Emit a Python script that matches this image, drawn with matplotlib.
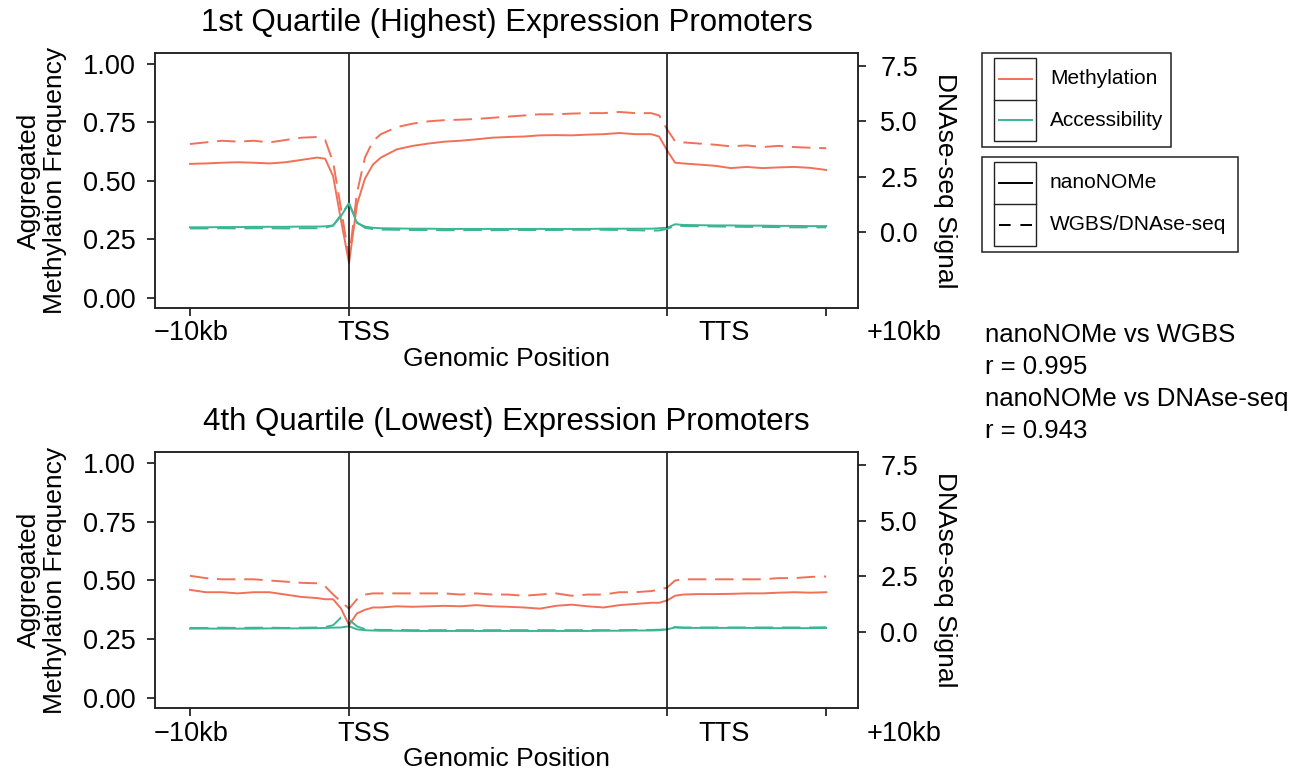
import numpy as np
import matplotlib
matplotlib.use("Agg")
import matplotlib.pyplot as plt
from matplotlib.patches import Rectangle
from matplotlib.lines import Line2D
import matplotlib.transforms as mtrans

plt.rcParams['font.family'] = ['Liberation Sans', 'DejaVu Sans']

# ---------------- data ----------------
pos = [-1.0, -0.9, -0.8, -0.7, -0.6, -0.5, -0.4, -0.3, -0.2, -0.15, -0.1, -0.05, 0.0,
       0.05, 0.1, 0.15, 0.2, 0.3, 0.4, 0.5, 0.6, 0.7, 0.8, 0.9, 1.0, 1.1, 1.2, 1.3, 1.4,
       1.5, 1.6, 1.7, 1.8, 1.9, 1.95, 2.0, 2.05, 2.1, 2.2, 2.3, 2.4, 2.5, 2.6, 2.7, 2.8,
       2.9, 3.0]

# 1st quartile
q1_meth_nano = [0.573, 0.575, 0.578, 0.580, 0.578, 0.575, 0.580, 0.590, 0.600, 0.595, 0.52, 0.33, 0.15,
                0.40, 0.51, 0.57, 0.60, 0.635, 0.65, 0.660, 0.668, 0.672, 0.678, 0.685, 0.688, 0.690, 0.695, 0.696, 0.695,
                0.698, 0.700, 0.705, 0.700, 0.700, 0.690, 0.63, 0.578, 0.575, 0.570, 0.565, 0.555, 0.560, 0.555, 0.558, 0.560,
                0.556, 0.547]
q1_meth_wgbs = [0.658, 0.665, 0.672, 0.668, 0.672, 0.665, 0.675, 0.685, 0.688, 0.675, 0.58, 0.38, 0.17,
                0.45, 0.60, 0.67, 0.70, 0.73, 0.745, 0.755, 0.760, 0.762, 0.765, 0.770, 0.775, 0.780, 0.785, 0.785, 0.788,
                0.790, 0.790, 0.795, 0.790, 0.790, 0.780, 0.72, 0.670, 0.665, 0.660, 0.655, 0.648, 0.652, 0.645, 0.650, 0.645,
                0.642, 0.640]
q1_acc_nano = [0.302, 0.302, 0.303, 0.303, 0.304, 0.304, 0.304, 0.305, 0.305, 0.306, 0.31, 0.35, 0.405,
               0.32, 0.305, 0.300, 0.298, 0.297, 0.296, 0.296, 0.295, 0.295, 0.295, 0.295, 0.295, 0.295, 0.295, 0.295, 0.295,
               0.295, 0.296, 0.296, 0.296, 0.296, 0.298, 0.300, 0.315, 0.312, 0.311, 0.310, 0.310, 0.309, 0.309, 0.308, 0.308,
               0.307, 0.307]
q1_acc_dnase = [0.17, 0.17, 0.18, 0.17, 0.18, 0.18, 0.17, 0.18, 0.18, 0.20, 0.30, 0.80, 1.30,
                0.45, 0.20, 0.14, 0.12, 0.11, 0.10, 0.10, 0.09, 0.09, 0.10, 0.09, 0.10, 0.10, 0.10, 0.10, 0.11,
                0.11, 0.11, 0.10, 0.09, 0.07, 0.08, 0.15, 0.30, 0.28, 0.27, 0.26, 0.25, 0.24, 0.24, 0.23, 0.22,
                0.22, 0.22]

# 4th quartile
q4_meth_nano = [0.460, 0.450, 0.450, 0.445, 0.450, 0.450, 0.440, 0.430, 0.425, 0.420, 0.420, 0.38, 0.31,
                0.36, 0.375, 0.385, 0.385, 0.390, 0.388, 0.390, 0.392, 0.390, 0.395, 0.390, 0.388, 0.385, 0.380, 0.392, 0.397,
                0.390, 0.385, 0.395, 0.400, 0.405, 0.405, 0.415, 0.435, 0.440, 0.442, 0.442, 0.443, 0.445, 0.445, 0.448, 0.450,
                0.448, 0.450]
q4_meth_wgbs = [0.520, 0.510, 0.505, 0.505, 0.505, 0.500, 0.495, 0.490, 0.488, 0.475, 0.44, 0.41, 0.38,
                0.42, 0.44, 0.445, 0.445, 0.445, 0.445, 0.445, 0.445, 0.440, 0.445, 0.440, 0.440, 0.435, 0.440, 0.445, 0.435,
                0.440, 0.440, 0.450, 0.450, 0.455, 0.460, 0.470, 0.500, 0.505, 0.505, 0.505, 0.505, 0.505, 0.505, 0.510, 0.510,
                0.515, 0.517]
q4_acc_nano = [0.295, 0.295, 0.295, 0.295, 0.295, 0.296, 0.296, 0.296, 0.297, 0.298, 0.299, 0.300, 0.305,
               0.292, 0.288, 0.287, 0.286, 0.286, 0.285, 0.285, 0.285, 0.285, 0.285, 0.285, 0.285, 0.285, 0.285, 0.285, 0.285,
               0.285, 0.286, 0.286, 0.287, 0.287, 0.288, 0.292, 0.300, 0.298, 0.298, 0.298, 0.298, 0.298, 0.297, 0.297, 0.297,
               0.297, 0.298]
q4_acc_dnase = [0.18, 0.18, 0.19, 0.18, 0.19, 0.19, 0.18, 0.19, 0.20, 0.22, 0.30, 0.65, 0.55,
                0.25, 0.12, 0.10, 0.09, 0.09, 0.08, 0.08, 0.08, 0.08, 0.08, 0.08, 0.08, 0.08, 0.08, 0.08, 0.08,
                0.08, 0.08, 0.08, 0.09, 0.09, 0.10, 0.12, 0.22, 0.20, 0.20, 0.20, 0.20, 0.20, 0.20, 0.20, 0.20,
                0.20, 0.21]

tick_pos = [-1.0, 0.0, 2.0, 3.0]
tick_text = ['\u221210kb', 'TSS', 'TTS', '+10kb']
tick_text_pos = [-0.99, 0.09, 2.36, 3.49]
tss_tts = [0.0, 2.0]
left_ticks = [0.00, 0.25, 0.50, 0.75, 1.00]
right_ticks = [0.0, 2.5, 5.0, 7.5]

titles = ['1st Quartile (Highest) Expression Promoters',
          '4th Quartile (Lowest) Expression Promoters']
corr_lines = ['nanoNOMe vs WGBS', 'r = 0.995', 'nanoNOMe vs DNAse-seq', 'r = 0.943']

METH = '#F07158'
ACC = '#3DB595'

W, H = 1311, 773
fig = plt.figure(figsize=(W / 100, H / 100), dpi=100)


def px_rect(l, t, r, b):
    return [l / W, 1 - b / H, (r - l) / W, (b - t) / H]


panels = [
    (px_rect(155, 53, 858, 308), q1_meth_nano, q1_meth_wgbs, q1_acc_nano, q1_acc_dnase, titles[0]),
    (px_rect(155, 452, 858, 708), q4_meth_nano, q4_meth_wgbs, q4_acc_nano, q4_acc_dnase, titles[1]),
]

FS_TICK = 19.5
FS_LAB = 19
LW = 1.4
DASH = (9.5, 4.5)
for rect, mn, mw, an, ad, title in panels:
    ax = fig.add_axes(rect)
    ax2 = ax.twinx()
    ax.set_xlim(-1.22, 3.2)
    ax.set_ylim(-0.043, 1.047)
    ax2.set_ylim(-3.42, 8.09)

    ax.plot(pos, mn, color=METH, lw=LW)
    ax.plot(pos, mw, color=METH, lw=LW, dashes=DASH)
    ax.plot(pos, an, color=ACC, lw=LW)
    ax2.plot(pos, ad, color=ACC, lw=LW, dashes=DASH)
    for v in tss_tts:
        ax.axvline(v, color='black', lw=1.1)

    for a in (ax, ax2):
        for s in a.spines.values():
            s.set_linewidth(1.1)
            s.set_color('#222222')

    ax.set_yticks(left_ticks)
    ax.set_yticklabels(['%.2f' % v for v in left_ticks])
    ax.tick_params(axis='y', length=6, width=1.1, pad=8, labelsize=FS_TICK)
    ax2.set_yticks(right_ticks)
    ax2.set_yticklabels(['%.1f' % v for v in right_ticks])
    ax2.tick_params(axis='y', length=6, width=1.1, pad=10, labelsize=FS_TICK)

    ax.set_xticks(tick_pos)
    ax.set_xticklabels([])
    ax.tick_params(axis='x', length=6, width=1.1)
    trans = mtrans.blended_transform_factory(ax.transData, ax.transAxes)
    for xp, t in zip(tick_text_pos, tick_text):
        ax.text(xp, -0.10, t, transform=trans, ha='center', va='center',
                fontsize=FS_TICK, clip_on=False)
    ax.text(0.50, -0.20, 'Genomic Position', transform=ax.transAxes,
            ha='center', va='center', fontsize=FS_LAB)

    ax.text(-0.1607, 0.5, 'Aggregated\nMethylation Frequency', transform=ax.transAxes,
            rotation=90, ha='center', va='center', fontsize=FS_LAB, linespacing=1.1)
    ax.text(1.1238, 0.5, 'DNAse-seq Signal', transform=ax.transAxes,
            rotation=270, ha='center', va='center', fontsize=FS_LAB)
    ax.set_title(title, fontsize=22.5, pad=16)

# ---------- legends and annotation (overlay in pixel coordinates) ----------
ov = fig.add_axes([0, 0, 1, 1])
ov.set_xlim(0, W)
ov.set_ylim(H, 0)
ov.axis('off')

def legend_box(top, bottom, right, entries):
    ov.add_patch(Rectangle((982, top), right - 982, bottom - top, fill=False,
                           lw=1.1, edgecolor='#222222'))
    it, ib = top + 5, bottom - 6
    ov.add_patch(Rectangle((994, it), 42, ib - it, fill=False, lw=1.0, edgecolor='#222222'))
    mid = (it + ib) / 2
    ov.add_line(Line2D([994, 1036], [mid, mid], lw=1.0, color='#222222'))
    for (label, color, style), yc in zip(entries, [(it + mid) / 2, (mid + ib) / 2]):
        if style == 'solid':
            ov.add_line(Line2D([999, 1032], [yc, yc], lw=LW, color=color))
        else:
            ov.add_line(Line2D([999, 1032], [yc, yc], lw=LW, color=color, dashes=(6, 5)))
        ov.text(1050, yc, label, ha='left', va='center', fontsize=15)

legend_box(53, 147, 1171, [('Methylation', METH, 'solid'), ('Accessibility', ACC, 'solid')])
legend_box(157, 252, 1238, [('nanoNOMe', 'black', 'solid'), ('WGBS/DNAse-seq', 'black', 'dashed')])

for i, line in enumerate(corr_lines):
    ov.text(985, 335 + 32 * i, line, ha='left', va='center', fontsize=18.5)

fig.savefig('out.png', dpi=100)
